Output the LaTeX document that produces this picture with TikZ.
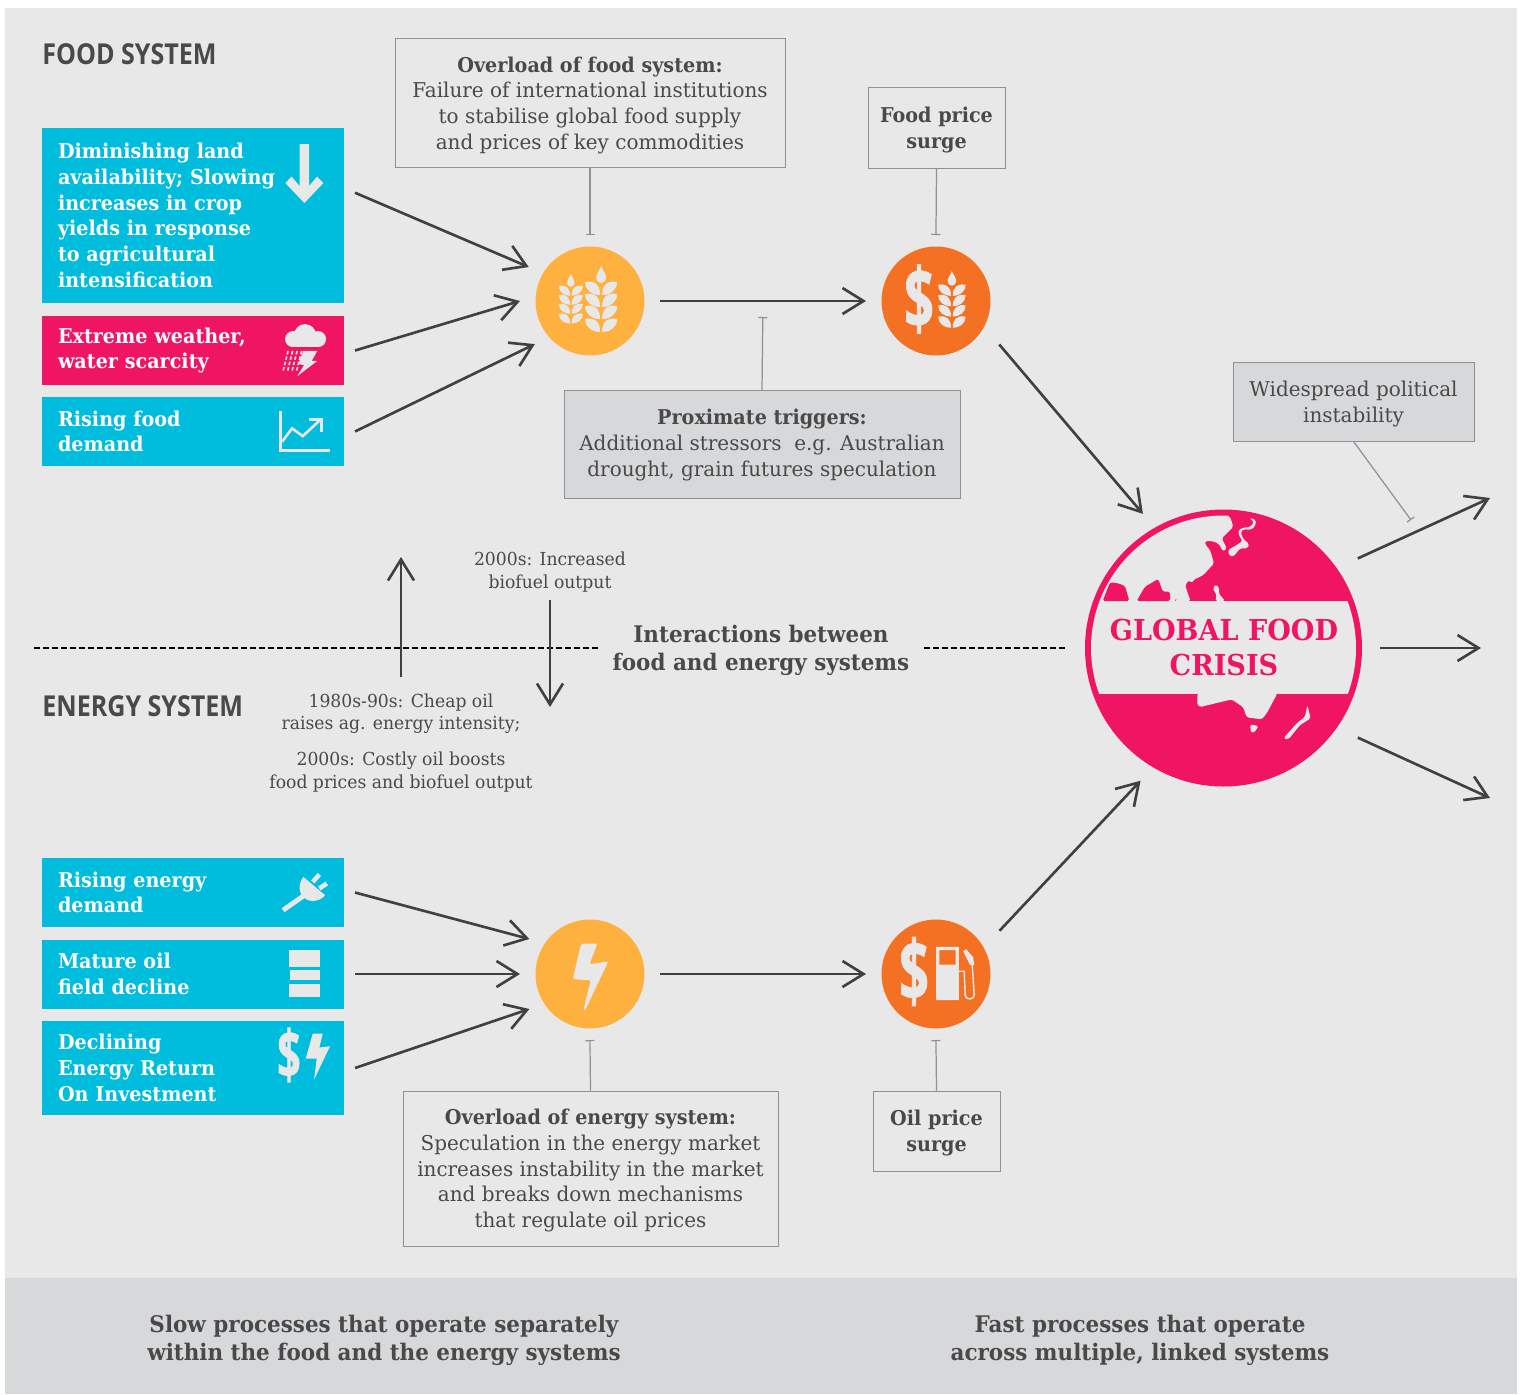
\documentclass[tikz,border=0pt]{standalone}
\usepackage{xcolor}
\usepackage{fontspec}
\usepackage{tikz}
\usetikzlibrary{arrows.meta}
\newfontfamily\slabfont[FakeStretch=0.98,BoldFeatures={FakeStretch=0.94}]{DejaVu Serif}
\newfontfamily\smallslab[FakeStretch=0.96]{DejaVu Serif}
\newfontfamily\headfont[FakeStretch=0.87]{Open Sans}
\newfontfamily\dollarfont[FakeStretch=0.62,FakeBold=0.8]{Open Sans}
\definecolor{pagegrey}{HTML}{E8E8E8}
\definecolor{bandgrey}{HTML}{D7D8DA}
\definecolor{edgegrey}{HTML}{8F9194}
\definecolor{textdark}{HTML}{494949}
\definecolor{linedark}{HTML}{404040}
\definecolor{boxcyan}{HTML}{00BCDD}
\definecolor{boxpink}{HTML}{EF1562}
\definecolor{amber}{HTML}{FFB140}
\definecolor{burnt}{HTML}{F47023}
\tikzset{
  driverbox/.style={fill=boxcyan, text=white, font=\slabfont\fontsize{11.6}{14.6}\selectfont\bfseries, text width=5.4cm, inner xsep=0.32cm, inner ysep=0pt, align=left, outer sep=0.22cm},
  notebox/.style={draw=edgegrey, line width=0.5pt, text=textdark, font=\slabfont\fontsize{11.6}{14.6}\selectfont, align=center, inner sep=0pt, text depth=0pt},
  smallnote/.style={text=textdark, font=\smallslab\fontsize{10.2}{12.75}\selectfont, align=center, inner sep=0pt, text depth=0pt},
  bandnote/.style={text=textdark, font=\slabfont\fontsize{13}{15.9}\selectfont\bfseries, align=center, inner sep=0pt, text depth=0pt},
  headnote/.style={text=textdark, font=\headfont\fontsize{16.4}{18}\selectfont\bfseries, anchor=west, inner sep=0pt},
  issue/.style={circle, minimum size=2.18cm, inner sep=0pt, outer sep=0.31cm},
  flowline/.style={draw=linedark, line width=1.5pt, -{Straight Barb[length=0.42cm,width=0.52cm,line width=1.5pt]}},
  tieline/.style={draw=edgegrey, line width=0.7pt, -{Bar[width=0.18cm,line width=0.7pt]}},
  divideline/.style={draw=black, line width=1.5pt, dash pattern=on 0.12cm off 0.06cm},
  iconfill/.style={fill=pagegrey, draw=none},
  dollarmark/.style={text=pagegrey, font=\dollarfont\fontsize{48}{48}\selectfont\bfseries, inner sep=0pt}
}
% one ear of wheat: x, top y, scale
\newcommand{\wheatear}[3]{%
  \begin{scope}[shift={(#1,#2)},scale=#3]
    \fill[iconfill] (0,0) .. controls (2,5) and (5,8) .. (5,12) .. controls (5,15) and (2,17) .. (0,17) .. controls (-2,17) and (-5,15) .. (-5,12) .. controls (-5,8) and (-2,5) .. cycle;
    \foreach \rowy in {28,40,52,65} {
      \foreach \sidex in {-1,1} {
        \fill[iconfill,xscale=\sidex] (1,\rowy+1) .. controls (9,\rowy+1) and (16,\rowy-4) .. (16,\rowy-12) .. controls (6,\rowy-14) and (1,\rowy-9) .. cycle;
      }
    }
  \end{scope}}

\begin{document}
\begin{tikzpicture}
  \useasboundingbox (0,0) rectangle (30.42,-27.88);

  % Background panels
  \fill[pagegrey] (0.1,-0.16) rectangle (30.34,-25.56);
  \fill[bandgrey] (0.1,-25.56) rectangle (30.34,-27.88);

  % Section titles
  \node[headnote] (foodtitle) at (0.84,-1.08) {FOOD SYSTEM};
  \node[headnote] (energytitle) at (0.84,-14.12) {ENERGY SYSTEM};

  % Food drivers
  \node[driverbox, minimum height=3.5cm] (landbox) at (3.86,-4.31) {Diminishing land\\availability; Slowing\\increases in crop\\yields in response\\to agricultural\\intensification};
  \node[driverbox, minimum height=1.38cm, fill=boxpink] (weatherbox) at (3.86,-7.01) {Extreme weather,\\water scarcity};
  \node[driverbox, minimum height=1.38cm] (foodbox) at (3.86,-8.63) {Rising food\\demand};

  % Energy drivers
  \node[driverbox, minimum height=1.38cm] (powerbox) at (3.86,-17.85) {Rising energy\\demand};
  \node[driverbox, minimum height=1.38cm] (oilfieldbox) at (3.86,-19.48) {Mature oil\\field decline};
  \node[driverbox, minimum height=1.88cm] (eroibox) at (3.86,-21.36) {Declining\\Energy Return\\On Investment};

  % Issue circles
  \node[issue, fill=amber] (grain) at (11.8,-6.02) {};
  \node[issue, fill=burnt] (foodprice) at (18.72,-6.02) {};
  \node[issue, fill=amber] (energy) at (11.8,-19.48) {};
  \node[issue, fill=burnt] (oilprice) at (18.72,-19.48) {};

  % Note boxes
  \node[notebox, minimum width=7.8cm, minimum height=2.58cm] (foodload) at (11.8,-2.06) {\textbf{Overload of food system:}\\Failure of international institutions\\to stabilise global food supply\\and prices of key commodities};
  \node[notebox, minimum width=2.74cm, minimum height=1.62cm] (foodsurge) at (18.73,-2.55) {\textbf{Food price}\\\textbf{surge}};
  \node[notebox, fill=bandgrey, minimum width=7.92cm, minimum height=2.16cm, text depth=2pt] (triggers) at (15.24,-8.89) {\textbf{Proximate triggers:}\\Additional stressors\ \ e.g. Australian\\drought, grain futures speculation};
  \node[notebox, fill=bandgrey, minimum width=4.82cm, minimum height=1.58cm] (unrest) at (27.07,-8.03) {Widespread political\\instability};
  \node[notebox, minimum width=7.5cm, minimum height=3.1cm] (energyload) at (11.81,-23.37) {\textbf{Overload of energy system:}\\Speculation in the energy market\\increases instability in the market\\and breaks down mechanisms\\that regulate oil prices};
  \node[notebox, minimum width=2.54cm, minimum height=1.6cm] (oilsurge) at (18.73,-22.62) {\textbf{Oil price}\\\textbf{surge}};

  % Interaction notes
  \node[smallnote, outer ysep=0.24cm] (biofuel) at (11,-11.4) {2000s: Increased\\biofuel output};
  \node[smallnote, outer ysep=0.33cm] (cheapoil) at (8.02,-14.82) {1980s-90s: Cheap oil\\raises ag. energy intensity;\\[7.6pt]2000s: Costly oil boosts\\food prices and biofuel output};
  \node[bandnote, minimum width=6.5cm] (interact) at (15.22,-12.96) {Interactions between\\food and energy systems};

  % Global food crisis disc with land masses
  \node[circle, fill=boxpink, minimum size=5.54cm, inner sep=0pt, outer sep=0.36cm] (crisis) at (24.47,-12.96) {};
  \begin{scope}
    \clip (24.47,-12.96) circle (2.65cm);
    \fill[pagegrey] (21,-12.01) rectangle (28,-13.88);
    % Asia and Japan
    \begin{scope}[shift={(21.8,-10.1)}, x=0.00667cm, y=-0.00667cm, rounded corners=1pt]
      \fill[pagegrey] (0,288) -- (0,0) -- (405,0) -- (405,28) -- (420,35) -- (430,65) -- (395,100) -- (410,130) -- (400,140) -- (385,115) -- (365,108) -- (345,108) -- (345,118) -- (360,135) -- (372,175) -- (340,210) -- (310,225) -- (305,235) -- (298,225) -- (285,240) -- (295,270) -- (302,288) -- cycle;
      \fill[pagegrey] (478,38) -- (498,45) -- (495,65) -- (480,75) -- (462,72) -- (452,80) -- (458,100) -- (478,118) -- (472,130) -- (450,130) -- (430,155) -- (418,152) -- (414,135) -- (440,120) -- (458,108) -- (446,90) -- (445,75) -- (460,68) -- (480,66) -- (492,52) -- cycle;
      \fill[pagegrey] (368,250) -- (378,238) -- (388,250) -- (386,265) -- (405,288) -- (376,288) -- (380,270) -- cycle;
      \fill[boxpink] (38,288) -- (55,245) -- (60,232) -- (85,235) -- (105,243) -- (118,288) -- cycle;
      \fill[boxpink] (140,288) -- (165,245) -- (205,222) -- (218,260) -- (240,260) -- (240,288) -- cycle;
      \fill[boxpink] (252,288) -- (257,279) -- (262,288) -- cycle;
    \end{scope}
    % Australia and New Zealand
    \begin{scope}[shift={(21.4,-9.8)}, x=0.00667cm, y=-0.00667cm, rounded corners=1pt]
      \fill[pagegrey] (382,610) -- (382,645) -- (390,651) -- (485,628) -- (520,652) -- (530,682) -- (575,688) -- (590,670) -- (622,610) -- cycle;
      \fill[pagegrey] (540,703) -- (566,708) -- (552,728) -- (543,728) -- cycle;
      \fill[pagegrey] (712,645) -- (722,685) -- (690,705) -- (655,748) -- (640,745) -- (680,700) -- (705,680) -- cycle;
    \end{scope}
  \end{scope}
  \node[text=boxpink, font=\slabfont\fontsize{16.4}{20.4}\selectfont\bfseries, align=center, inner sep=0pt] (crisistext) at (24.48,-12.95) {GLOBAL FOOD\\CRISIS};

  % Footer captions
  \node[bandnote] (slowtext) at (7.68,-26.76) {Slow processes that operate separately\\within the food and the energy systems};
  \node[bandnote] (fasttext) at (22.8,-26.76) {Fast processes that operate\\across multiple, linked systems};

  % Dollar signs in the icons
  \node[dollarmark] (dollarfood) at (18.38,-5.98) {\$};
  \node[dollarmark] (dollaroil) at (18.28,-19.43) {\$};
  \node[dollarmark, font=\dollarfont\fontsize{38}{38}\selectfont\bfseries] (dollareroi) at (5.78,-21.1) {\$};

  % Icons, in picture pixels
  \begin{scope}[x=0.02cm, y=-0.02cm]
    \wheatear{601}{266}{1}
    \wheatear{570.7}{274}{0.75}
    \wheatear{951.7}{271}{0.86}
    % Down arrow
    \fill[iconfill] (299.5,144) -- (309,144) -- (309,186) -- (317,176.5) -- (323.3,183) -- (304.3,203) -- (285.3,183) -- (291.5,176.5) -- (299.5,186) -- cycle;
    % Rain cloud
    \fill[iconfill] (305,335) circle (11);
    \fill[iconfill] (293,339) circle (8);
    \fill[iconfill] (318,339) circle (8);
    \fill[iconfill] (293,340) rectangle (318,347);
    \fill[iconfill] (303.3,350.7) -- (317.3,350.7) -- (311.7,360.7) -- (317,361) -- (297.3,376) -- (304,365) -- (298.3,364) -- cycle;
    \foreach \rainx in {288,292.5,297,301.5} {
      \draw[pagegrey, line width=0.9pt, dash pattern=on 0.07cm off 0.04cm] (\rainx,351) -- (\rainx-5,371);
    }
    % Rising chart
    \draw[pagegrey, line width=1.7pt] (280.5,411) -- (280.5,450) -- (330,450);
    \draw[pagegrey, line width=1.5pt] (282,441.7) -- (292,428.3) -- (302.7,436) -- (320,420);
    \draw[pagegrey, line width=1.5pt] (309.3,419.5) -- (321.2,419.5) -- (321.2,431.7);
    % Plug
    \draw[pagegrey, line width=2.8pt] (283,910) -- (303,896);
    \draw[pagegrey, line width=2.6pt] (312.7,881.7) -- (319.3,874.3);
    \draw[pagegrey, line width=2.6pt] (319.3,888.3) -- (326.7,883.3);
    \fill[iconfill] (303.3,876.7) .. controls (296,886) and (299,900) .. (313,901) .. controls (318,900) and (322,899) .. (325,895) -- cycle;
    % Oil barrel
    \fill[iconfill] (289.3,950) rectangle (320,966.7);
    \fill[iconfill] (289.8,969.3) rectangle (319.5,980);
    \fill[iconfill] (289.3,983.3) rectangle (320,996.7);
    % Bolt with dollar
    \fill[iconfill] (312.7,1033.3) -- (322.7,1033.3) -- (319.3,1047.3) -- (330,1046) -- (314,1079.3) -- (316.7,1058.3) -- (305.7,1058.3) -- cycle;
    % Energy bolt
    \fill[iconfill, rounded corners=1pt] (581,943.3) -- (597.3,943.3) -- (589.3,964.3) -- (608.3,961) -- (585,1010) -- (583.3,1010) -- (590.7,980) -- (572.7,979) -- cycle;
    % Fuel pump
    \fill[iconfill, even odd rule] (936,946.7) rectangle (958.7,1000) (939.3,950) rectangle (955.3,964.3);
    \draw[pagegrey, line width=0.8pt] (958.7,971) -- (964,971) -- (965,995) .. controls (965,1000) and (974,1000) .. (974,995) -- (972,964);
    \fill[iconfill] (963,951) -- (966,949) -- (973,957) -- (974,965) -- (970,965) -- cycle;
  \end{scope}

  % Flows into the food circle
  \draw[flowline] (landbox.8.6) -- (grain.151);
  \draw[flowline] (weatherbox.east) -- (grain.180);
  \draw[flowline] (foodbox.east) -- (grain.218);
  \draw[flowline] (grain.east) -- coordinate[midway] (foodmid) (foodprice.west);

  % Flows into the energy circle
  \draw[flowline] (powerbox.east) -- (energy.150);
  \draw[flowline] (oilfieldbox.east) -- (energy.180);
  \draw[flowline] (eroibox.east) -- (energy.210);
  \draw[flowline] (energy.east) -- (oilprice.west);

  % Flows into and out of the crisis
  \draw[flowline, shorten <=0.14cm] (foodprice.-33.9) -- (crisis.121.3);
  \draw[flowline, shorten <=0.14cm] (oilprice.33.9) -- (crisis.238.7);
  \coordinate (outupper) at (29.8,-9.96);
  \coordinate (outmiddle) at (29.62,-12.96);
  \coordinate (outlower) at (29.8,-15.96);
  \draw[flowline, shorten <=0.1cm] (crisis.34) -- coordinate[pos=0.5] (unrestmid) (outupper);
  \draw[flowline] (crisis.east) -- (outmiddle);
  \draw[flowline, shorten <=0.1cm] (crisis.-34) -- (outlower);

  % Ties from notes
  \draw[tieline, shorten >=-0.08cm] (foodload.south) -- (grain.north);
  \draw[tieline, shorten >=-0.08cm] (foodsurge.south) -- (foodprice.north);
  \draw[tieline, shorten >=0.32cm] (triggers.north) -- (foodmid);
  \coordinate (unrestend) at (28.22,-10.4);
  \draw[tieline] (unrest.south) -- (unrestend);
  \draw[tieline, shorten >=-0.08cm] (energyload.north) -- (energy.south);
  \draw[tieline, shorten >=-0.08cm] (oilsurge.north) -- (oilprice.south);

  % Divide between the two systems
  \coordinate (dividestart) at (0.68,-12.96);
  \draw[divideline] (dividestart) -- (interact.west);
  \draw[divideline] (interact.east) -- (crisis.west);

  % Interaction arrows
  \coordinate (upend) at (8.02,-11.14);
  \coordinate (downend) at (11,-14.14);
  \draw[flowline, line width=1.3pt] (cheapoil.north) -- (upend);
  \draw[flowline, line width=1.3pt] (biofuel.south) -- (downend);
\end{tikzpicture}
\end{document}
